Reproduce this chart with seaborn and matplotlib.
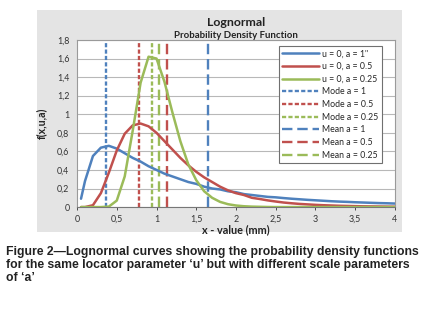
import matplotlib
matplotlib.use("Agg")
import matplotlib.pyplot as plt
from matplotlib.patches import Rectangle
from matplotlib.ticker import FuncFormatter
import pandas as pd
import seaborn as sns

sns.set_style("white")
plt.rcParams["font.family"] = ["Lato", "DejaVu Sans"]
plt.rcParams["lines.scale_dashes"] = False

# x values of the plotted points (mm)
x_vals = [0.05, 0.1, 0.2, 0.3, 0.4, 0.5, 0.6, 0.7, 0.8, 0.9, 1.0,
          1.1, 1.2, 1.3, 1.4, 1.5, 1.6, 1.7, 1.8, 1.9, 2.0,
          2.1, 2.2, 2.3, 2.4, 2.5, 2.6, 2.7, 2.8, 2.9, 3.0,
          3.1, 3.2, 3.3, 3.4, 3.5, 3.6, 3.7, 3.8, 3.9, 4.0]
# f(x,u,a)
pdf_a1 = [0.09, 0.28, 0.55, 0.64, 0.66, 0.63, 0.58, 0.53, 0.49, 0.44, 0.40,
          0.36, 0.33, 0.30, 0.27, 0.25, 0.22, 0.20, 0.19, 0.17, 0.16,
          0.14, 0.13, 0.12, 0.11, 0.105, 0.097, 0.09, 0.084, 0.078, 0.073,
          0.068, 0.063, 0.059, 0.056, 0.052, 0.049, 0.046, 0.043, 0.041, 0.038]
pdf_a05 = [0.0, 0.0, 0.02, 0.15, 0.37, 0.61, 0.79, 0.88, 0.90, 0.87, 0.80,
           0.71, 0.62, 0.53, 0.45, 0.38, 0.32, 0.27, 0.22, 0.18, 0.15,
           0.13, 0.10, 0.087, 0.072, 0.06, 0.049, 0.041, 0.034, 0.029, 0.024,
           0.02, 0.017, 0.014, 0.012, 0.01, 0.008, 0.007, 0.006, 0.005, 0.004]
pdf_a025 = [0.0, 0.0, 0.0, 0.0, 0.005, 0.07, 0.33, 0.82, 1.34, 1.62, 1.60,
            1.35, 1.02, 0.71, 0.46, 0.29, 0.17, 0.10, 0.056, 0.031, 0.017,
            0.009, 0.005, 0.003, 0.001, 0.0, 0.0, 0.0, 0.0, 0.0, 0.0,
            0.0, 0.0, 0.0, 0.0, 0.0, 0.0, 0.0, 0.0, 0.0, 0.0]
curve_labels = ['u = 0, a = 1"', "u = 0, a = 0.5", "u = 0, a = 0.25"]

# mode and mean positions (mm)
mode_x = [0.37, 0.78, 0.94]
mode_labels = ["Mode a = 1", "Mode a = 0.5", "Mode a = 0.25"]
mean_x = [1.65, 1.13, 1.03]
mean_labels = ["Mean a = 1", "Mean a = 0.5", "Mean a = 0.25"]

caption = ["Figure 2\u2014Lognormal curves showing the probability density functions",
           "for the same locator parameter \u2018u\u2019 but with different scale parameters",
           "of \u2018a\u2019"]

colors = ["#4F81BD", "#C0504D", "#9BBB59"]

df = pd.DataFrame({"x": x_vals * 3,
                   "f": pdf_a1 + pdf_a05 + pdf_a025,
                   "series": [curve_labels[0]] * len(x_vals)
                   + [curve_labels[1]] * len(x_vals)
                   + [curve_labels[2]] * len(x_vals)})

fig = plt.figure(figsize=(4.21, 3.10), dpi=100)
fig.add_artist(Rectangle((0.088, 0.252), 0.867, 0.716, transform=fig.transFigure,
                         facecolor="#e4e4e4", edgecolor="none", zorder=0))

ax = fig.add_axes([0.183, 0.332, 0.755, 0.539])
ax.set_facecolor("white")

sns.lineplot(data=df, x="x", y="f", hue="series", palette=colors, linewidth=1.8,
             ax=ax, legend=False, zorder=3)
for line, lab in zip(ax.get_lines(), curve_labels):
    line.set_label(lab)

for xv, c, lab in zip(mode_x, colors, mode_labels):
    ax.axvline(xv, color=c, lw=1.7, dashes=(3.0, 1.6), label=lab, zorder=2)
for xv, c, lab in zip(mean_x, colors, mean_labels):
    ax.axvline(xv, color=c, lw=1.7, dashes=(7.5, 3.5), label=lab, zorder=2)

ax.set_xlim(0, 4)
ax.set_ylim(0, 1.8)
ax.set_xticks([0, 0.5, 1, 1.5, 2, 2.5, 3, 3.5, 4])
ax.set_yticks([0, 0.2, 0.4, 0.6, 0.8, 1.0, 1.2, 1.4, 1.6, 1.8])
fmt = FuncFormatter(lambda v, p: ("%g" % v).replace(".", ","))
ax.xaxis.set_major_formatter(fmt)
ax.yaxis.set_major_formatter(fmt)
ax.yaxis.grid(True, color="#b8b8b8", lw=0.8)
ax.set_axisbelow(True)
ax.tick_params(axis="both", labelsize=6.4, colors="#333333", length=2.5, width=0.6, pad=3)
ax.tick_params(axis="x", bottom=True, direction="out")
for s in ax.spines.values():
    s.set_color("#9a9a9a")
    s.set_linewidth(0.8)
ax.spines["bottom"].set_color("#777777")

ax.set_xlabel("x - value (mm)", fontsize=7.8, fontweight="bold", labelpad=0, color="#222222")
ax.set_ylabel("f(x,u,a)", fontsize=7.6, fontweight="bold", labelpad=7, color="#222222")

fig.text(0.56, 1 - 22 / 310, "Lognormal", ha="center", va="center",
         fontsize=8.9, fontweight="bold", color="#222222")
fig.text(0.56, 1 - 35 / 310, "Probability Density Function", ha="center", va="center",
         fontsize=6.9, fontweight="bold", color="#222222")

leg = ax.legend(loc="upper left", bbox_to_anchor=(0.635, 0.965), fontsize=6.3,
                frameon=True, fancybox=False, edgecolor="#707070", framealpha=1,
                handlelength=4.2, handletextpad=0.3, labelspacing=0.42,
                borderpad=0.4, borderaxespad=0)
leg.get_frame().set_linewidth(0.8)

for i, line in enumerate(caption):
    fig.text(0.014, 1 - (252 + 13 * i) / 310, line, ha="left", va="center",
             fontsize=8.8, fontweight="bold", family=["Liberation Sans", "DejaVu Sans"],
             color="#222222")

fig.savefig("out.png", dpi=100)
